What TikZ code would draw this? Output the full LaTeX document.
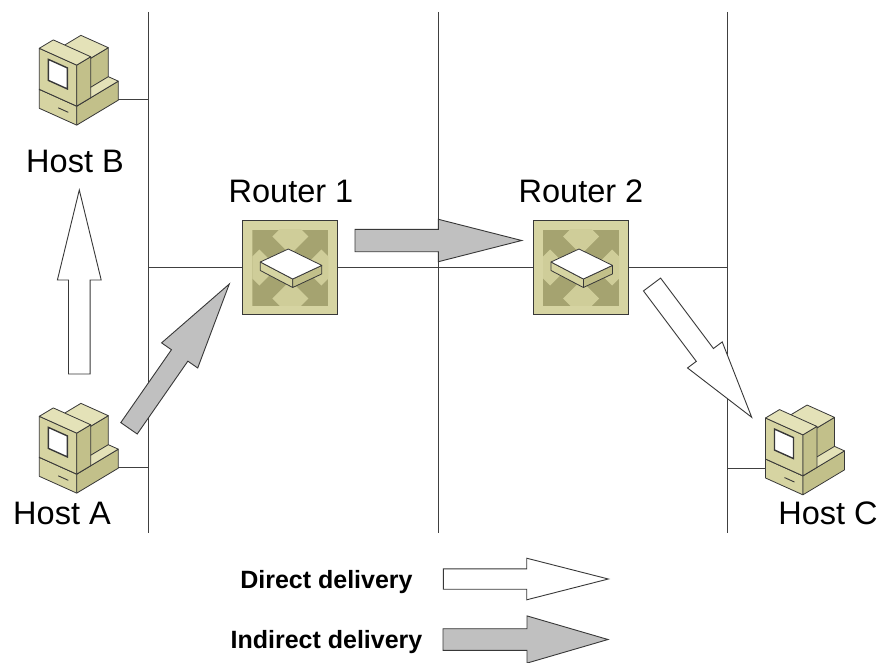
\documentclass[tikz,border=0pt]{standalone}
\usepackage{fontspec}
\setmainfont{Liberation Sans}
\usetikzlibrary{calc}

\definecolor{khakifront}{HTML}{D6D4A2}
\definecolor{khakiside}{HTML}{C2C08A}
\definecolor{khakitop}{HTML}{E4E2B8}
\definecolor{routerdark}{HTML}{A5A370}
\definecolor{routerlight}{HTML}{CFCD99}
\definecolor{edgegrey}{HTML}{383838}
\definecolor{arrowgrey}{HTML}{C0C0C0}
\definecolor{netgrey}{HTML}{404040}

% fat block arrow: style, tail, tip, shaft half width, head half width, head length
\newcommand\deliveryarrow[6]{%
  \coordinate (da-neck) at ($(#3)!#6!(#2)$);
  \draw[#1] ($(#2)!#4!90:(#3)$) -- ($(da-neck)!#4!90:(#3)$)
    -- ($(da-neck)!#5!90:(#3)$) -- (#3)
    -- ($(da-neck)!#5!-90:(#3)$) -- ($(da-neck)!#4!-90:(#3)$)
    -- ($(#2)!#4!-90:(#3)$) -- cycle;
}

\tikzset{
  net/.style={draw=netgrey, line width=1pt},
  direct/.style={draw=edgegrey, line width=0.9pt, fill=white, line join=miter},
  indirect/.style={draw=edgegrey, line width=0.9pt, fill=arrowgrey, line join=miter},
  face/.style={draw=edgegrey, line width=0.8pt, line join=round},
  label/.style={font=\fontsize{32.5}{39}\selectfont, anchor=base, inner sep=0pt},
  legend/.style={font=\bfseries\fontsize{25}{30}\selectfont, anchor=base, inner sep=0pt},
  routerbox/.style={draw=edgegrey, line width=1.2pt, fill=khakifront,
    minimum width=95, minimum height=94, inner sep=0pt},
  % desktop computer, origin at the front bottom left corner
  pics/host/.style={code={
    \begin{scope}[x={(1pt,-0.45pt)}, y={(1pt,0.6pt)}, z={(0pt,1pt)}]
      % base
      \filldraw[face, fill=khakifront] (0,0,0) -- (37.4,0,0) -- (37.4,0,19) -- (0,0,19) -- cycle;
      \filldraw[face, fill=khakiside] (37.4,0,0) -- (37.4,41.6,0) -- (37.4,41.6,19) -- (37.4,0,19) -- cycle;
      \filldraw[face, fill=khakitop] (0,0,19) -- (37.4,0,19) -- (37.4,41.6,19) -- (0,41.6,19) -- cycle;
      % rear housing
      \filldraw[face, fill=khakiside] (27.4,14,19) -- (27.4,41.6,19) -- (27.4,41.6,48) -- (27.4,14,48) -- cycle;
      \filldraw[face, fill=khakitop] (0,14,48) -- (27.4,14,48) -- (27.4,41.6,48) -- (0,41.6,48) -- cycle;
      % monitor
      \filldraw[face, fill=khakifront] (0,0,19) -- (37.4,0,19) -- (37.4,0,60) -- (0,0,60) -- cycle;
      \filldraw[face, fill=khakiside] (37.4,0,19) -- (37.4,14,19) -- (37.4,14,60) -- (37.4,0,60) -- cycle;
      \filldraw[face, fill=khakitop] (0,0,60) -- (37.4,0,60) -- (37.4,14,60) -- (0,14,60) -- cycle;
      % screen and slot
      \filldraw[draw=edgegrey, line width=1.4pt, fill=white] (9,0,32) -- (28,0,32) -- (28,0,53) -- (9,0,53) -- cycle;
      \draw[edgegrey, line width=0.9pt] (19,0,9) -- (29,0,9);
      \coordinate (-port) at (37.4,41.6,0.5);
      \coordinate (-lport) at (0,0,10);
    \end{scope}
  }},
  % router box with crossing arrows and a flat slab on top
  pics/router/.style={code={
    \node[routerbox] (-box) {};
    \begin{scope}
      \clip (-38,-38) rectangle (38,38);
      \fill[routerdark] (-38,-38) rectangle (38,38);
      \foreach \cx/\cy in {0/-31,0/31,-31/0,31/0}
        \fill[routerlight] ({\cx},{\cy-18}) -- ({\cx+18},{\cy}) -- ({\cx},{\cy+18}) -- ({\cx-18},{\cy}) -- cycle;
    \end{scope}
    \filldraw[face, fill=khakifront] (-30,-5.5) -- (2.4,11.5) -- (2.4,20) -- (-30,3) -- cycle;
    \filldraw[face, fill=khakiside] (2.4,11.5) -- (31.5,-2.1) -- (31.5,6.4) -- (2.4,20) -- cycle;
    \filldraw[face, fill=white] (-30,-5.5) -- (-2,-18.5) -- (31.5,-2.1) -- (2.4,11.5) -- cycle;
  }},
}

\begin{document}
\begin{tikzpicture}[x=1pt, y=-1pt]
  \useasboundingbox (0,0) rectangle (880,663);
  \fill[white] (0,0) rectangle (880,663);

  % three network segments
  \coordinate (n1top) at (148,12);  \coordinate (n1bot) at (148,533);
  \coordinate (n2top) at (438,12);  \coordinate (n2bot) at (438,533);
  \coordinate (n3top) at (727,12);  \coordinate (n3bot) at (727,533);
  \draw[net] (n1top) -- (n1bot);
  \draw[net] (n2top) -- (n2bot);
  \draw[net] (n3top) -- (n3bot);

  % routers
  \pic (r1) at (290.3,267.5) {router};
  \pic (r2) at (581,267.5) {router};
  \draw[net] (r1-box.west -| n1top) -- (r1-box.west);
  \draw[net] (r1-box.east) -- (r2-box.west);
  \draw[net] (r2-box.east) -- (r2-box.east -| n3top);

  % hosts
  \pic (hb) at (39.3,108.3) {host};
  \pic (ha) at (39.3,476.3) {host};
  \pic (hc) at (765.5,478) {host};
  \draw[net] (hb-port) -- (hb-port -| n1top);
  \draw[net] (ha-port) -- (ha-port -| n1top);
  \draw[net] (hc-lport) -- (hc-lport -| n3top);

  % labels
  \node[label] (hblabel) at (75,172) {Host B};
  \node[label] (halabel) at (62,524) {Host A};
  \node[label] (hclabel) at (828,524) {Host C};
  \node[label] (r1label) at (291,203) {Router 1};
  \node[label] (r2label) at (581,203) {Router 2};

  % delivery arrows
  \coordinate (ab-tail) at (79.3,374);   \coordinate (ab-tip) at (79.3,190);
  \coordinate (ar-tail) at (129,428.3);  \coordinate (ar-tip) at (229.3,284);
  \coordinate (rr-tail) at (355,240.5);  \coordinate (rr-tip) at (521.7,240.5);
  \coordinate (rc-tail) at (652,284.5);  \coordinate (rc-tip) at (751.7,417.3);
  \deliveryarrow{direct}{ab-tail}{ab-tip}{10.8pt}{21.9pt}{90pt}
  \deliveryarrow{indirect}{ar-tail}{ar-tip}{10pt}{22pt}{87pt}
  \deliveryarrow{indirect}{rr-tail}{rr-tip}{11.2pt}{21.2pt}{83.3pt}
  \deliveryarrow{direct}{rc-tail}{rc-tip}{10.7pt}{21.7pt}{78pt}

  % legend
  \node[legend] (ldirect) at (326.5,588) {Direct delivery};
  \node[legend] (lindirect) at (326.5,648) {Indirect delivery};
  \coordinate (ld-tail) at (443.3,579);  \coordinate (ld-tip) at (608.3,579);
  \coordinate (li-tail) at (443,639.5);  \coordinate (li-tip) at (608,639.5);
  \deliveryarrow{direct}{ld-tail}{ld-tip}{10.2pt}{20.8pt}{81.6pt}
  \deliveryarrow{indirect}{li-tail}{li-tip}{10.8pt}{23.6pt}{81pt}
\end{tikzpicture}
\end{document}
